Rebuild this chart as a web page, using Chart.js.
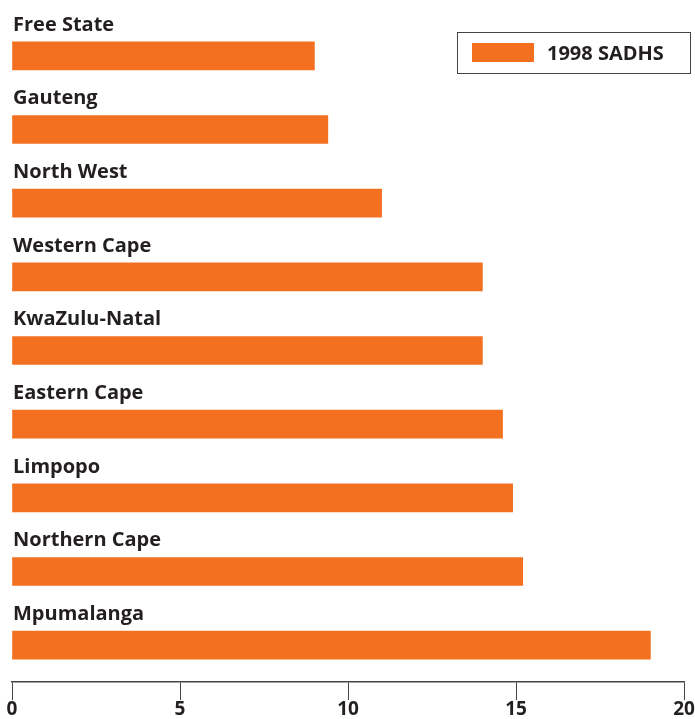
<!DOCTYPE html>
<html>
<head>
<meta charset="utf-8">
<script src="https://cdn.jsdelivr.net/npm/chart.js@4/dist/chart.umd.min.js"></script>
<style>
    html, body { margin: 0; padding: 0; background: #fff; }
    #wrap { width: 695px; height: 719px; }
</style>
</head>
<body>
<div id="wrap"><canvas id="provinceChart" width="695" height="719"></canvas></div>
<script>
// 주의: 값은 그림에서 읽은 추정치
const provinces = ['Free State', 'Gauteng', 'North West', 'Western Cape', 'KwaZulu-Natal',
    'Eastern Cape', 'Limpopo', 'Northern Cape', 'Mpumalanga']
const sadhs1998 = [9.0, 9.4, 11.0, 14.0, 14.0, 14.6, 14.9, 15.2, 19.0]
const xTicks = [0, 5, 10, 15, 20]
const seriesName = '1998 SADHS'

const orange = '#f37021'
const textColor = '#231f20'
const fontFamily = '"Open Sans", Lato, sans-serif'

// 막대 위에 지역명 표시
const barLabels = {
    id: 'barLabels',
    afterDatasetsDraw(chart) {
        const ctx = chart.ctx
        const meta = chart.getDatasetMeta(0)
        ctx.save()
        ctx.font = 'bold 20px ' + fontFamily
        ctx.fillStyle = textColor
        ctx.textAlign = 'left'
        ctx.textBaseline = 'middle'
        meta.data.forEach((bar, i) => {
            ctx.fillText(chart.data.labels[i], chart.chartArea.left + 1, bar.y - 31)
        })
        ctx.restore()
    }
}

// 테두리 있는 범례
const boxLegend = {
    id: 'boxLegend',
    afterDraw(chart) {
        const ctx = chart.ctx
        const ds = chart.data.datasets[0]
        ctx.save()
        ctx.strokeStyle = '#444'
        ctx.lineWidth = 1
        ctx.strokeRect(457.5, 32.5, 233, 41)
        ctx.fillStyle = ds.backgroundColor
        ctx.fillRect(472, 43, 62, 19)
        ctx.font = 'bold 20px ' + fontFamily
        ctx.fillStyle = textColor
        ctx.textBaseline = 'middle'
        ctx.fillText(ds.label, 547, 54)
        ctx.restore()
    }
}

const context = document.getElementById('provinceChart')
const chartData = {
    labels: provinces,
    datasets: [{
        label: seriesName,
        data: sadhs1998,
        backgroundColor: orange,
        borderWidth: 0,
        barThickness: 28
    }]
}
const config = {
    type: 'bar',
    data: chartData,
    options: {
        indexAxis: 'y',
        responsive: false,
        animation: false,
        layout: { padding: { top: 19, left: 12, right: 11, bottom: 0 } },
        scales: {
            x: {
                min: 0,
                max: 20,
                afterBuildTicks: axis => { axis.ticks = xTicks.map(v => ({ value: v })) },
                grid: {
                    drawOnChartArea: false,
                    drawTicks: true,
                    tickLength: 18,
                    color: '#444',
                    lineWidth: 1
                },
                border: { display: true, color: '#444', width: 1.5 },
                ticks: {
                    padding: 0,
                    color: textColor,
                    maxRotation: 0,
                    font: { family: fontFamily, size: 19, weight: 'bold', lineHeight: 1 }
                }
            },
            y: { display: false }
        },
        plugins: {
            legend: { display: false },
            tooltip: { enabled: false }
        }
    },
    plugins: [barLabels, boxLegend]
}
const myChart = new Chart(context, config)
</script>
</body>
</html>
